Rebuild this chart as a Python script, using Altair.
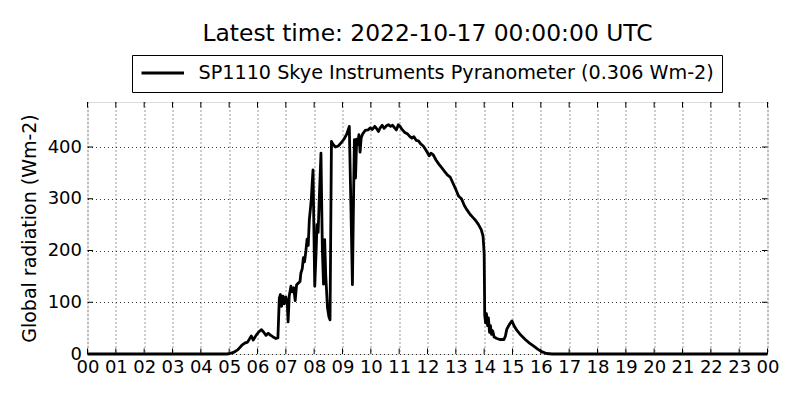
import altair as alt
import pandas as pd

TITLE = "Latest time: 2022-10-17 00:00:00 UTC"
SERIES = "SP1110 Skye Instruments Pyranometer (0.306 Wm-2)"
Y_TITLE = "Global radiation (Wm-2)"

hours = [0.0, 4.9, 5.0, 5.15, 5.3, 5.45, 5.55, 5.65, 5.78, 5.85, 5.95, 6.05, 6.14, 6.22, 6.3,
         6.38, 6.47, 6.55, 6.65, 6.72, 6.77, 6.81, 6.85, 6.9, 6.95, 7.0, 7.05, 7.08, 7.12, 7.18,
         7.23, 7.28, 7.33, 7.38, 7.44, 7.5, 7.53, 7.58, 7.62, 7.66, 7.71, 7.75, 7.79, 7.83, 7.87,
         7.9, 7.93, 7.96, 8.02, 8.07, 8.1, 8.14, 8.18, 8.24, 8.29, 8.33, 8.37, 8.41, 8.47, 8.52,
         8.56, 8.61, 8.67, 8.75, 8.85, 8.95, 9.05, 9.15, 9.24, 9.28, 9.31, 9.35, 9.39, 9.42, 9.46,
         9.5, 9.54, 9.58, 9.62, 9.66, 9.72, 9.8, 9.9, 9.98, 10.05, 10.14, 10.2, 10.27, 10.33, 10.4,
         10.47, 10.55, 10.62, 10.7, 10.77, 10.84, 10.9, 10.97, 11.03, 11.1, 11.2, 11.3, 11.38, 11.45,
         11.52, 11.6, 11.68, 11.76, 11.85, 11.92, 12.0, 12.06, 12.12, 12.2, 12.3, 12.4, 12.5, 12.6,
         12.7, 12.8, 12.9, 13.0, 13.1, 13.2, 13.3, 13.4, 13.5, 13.6, 13.7, 13.8, 13.9, 13.96, 14.0,
         14.02, 14.05, 14.08, 14.12, 14.15, 14.19, 14.22, 14.26, 14.3, 14.35, 14.45, 14.55, 14.7,
         14.75, 14.8, 14.9, 14.98, 15.05, 15.15, 15.3, 15.45, 15.6, 15.75, 15.9, 16.05, 16.2, 16.4,
         24.0]
radiation = [0, 0, 0.5, 3, 8, 17, 21, 23, 35, 27, 36, 43, 47, 42, 36,
             40, 36, 33, 30, 31, 108, 115, 92, 112, 97, 110, 100, 62, 112, 131,
             120, 128, 103, 134, 137, 140, 156, 165, 186, 178, 200, 222, 210, 260, 282,
             300, 330, 356, 131, 200, 250, 235, 300, 388, 200, 135, 221, 150, 90, 72,
             66, 411, 405, 400, 402, 408, 415, 425, 440, 330, 250, 134, 300, 414, 340,
             415, 405, 424, 390, 418, 426, 432, 433, 437, 434, 440, 436, 430, 437, 442,
             436, 441, 443, 440, 442, 437, 433, 443, 440, 434, 428, 425, 420, 417,
             420, 413, 412, 406, 402, 396, 389, 383, 388, 385, 375, 367, 360, 353,
             346, 342, 330, 318, 305, 300, 287, 278, 270, 264, 258, 250, 240, 228, 195,
             75, 60, 78, 55, 70, 42, 55, 38, 45, 33, 30, 28, 28,
             35, 48, 58, 64, 55, 46, 36, 28, 21, 15, 9, 4, 1, 0,
             0]

x_ticks = list(range(0, 25))
y_ticks = [0, 100, 200, 300, 400]
y_max = 487

W, H = 680, 252
FONT = "DejaVu Sans"

df = pd.DataFrame({"hour": hours, "value": radiation, "series": SERIES})
xt = pd.DataFrame({"hour": x_ticks})
yt = pd.DataFrame({"value": y_ticks})

xscale = alt.Scale(domain=[0, 24], nice=False, zero=False)
yscale = alt.Scale(domain=[0, y_max], nice=False)

grid_style = dict(grid=True, gridColor="black", gridDash=[1, 3], gridWidth=0.8, gridOpacity=1)

x_axis = alt.Axis(values=x_ticks, title=None, ticks=False, domain=False,
                  labelExpr="(datum.value % 24) < 10 ? '0' + (datum.value % 24) : '' + (datum.value % 24)",
                  labelFontSize=18, labelFont=FONT, labelColor="black", labelPadding=4,
                  labelFlush=False, labelOverlap=False, **grid_style)
y_axis = alt.Axis(values=y_ticks, title=Y_TITLE, ticks=False, domain=False,
                  labelFontSize=18, labelFont=FONT, labelColor="black", labelPadding=6,
                  titleFontSize=19, titleFont=FONT, titleFontWeight="normal",
                  titleColor="black", titlePadding=8, **grid_style)

X = alt.X("hour:Q", scale=xscale, axis=x_axis, title=None)
Y = alt.Y("value:Q", scale=yscale, axis=y_axis, title=Y_TITLE)

line = alt.Chart(df).mark_line(strokeWidth=2.8, strokeJoin="round").encode(
    x=X, y=Y,
    color=alt.Color("series:N", scale=alt.Scale(range=["black"]),
                    legend=alt.Legend(title=None, orient="none", legendX=44.5, legendY=-47,
                                      symbolType="M-1,0H4", symbolSize=289, symbolStrokeWidth=2.8,
                                      labelFontSize=19.2, labelFont=FONT, labelColor="black",
                                      labelOffset=38.5, labelLimit=0, strokeColor="black",
                                      fillColor="white", padding=8, cornerRadius=0)),
)

xt_bottom = alt.Chart(xt).mark_rule(color="black", strokeWidth=1).encode(
    x=X, y=alt.value(H), y2=alt.value(H - 5.5))
xt_top = alt.Chart(xt).mark_rule(color="black", strokeWidth=1).encode(
    x=X, y=alt.value(0), y2=alt.value(5.5))
yt_left = alt.Chart(yt).mark_rule(color="black", strokeWidth=1).encode(
    y=Y, x=alt.value(0), x2=alt.value(5.5))
yt_right = alt.Chart(yt).mark_rule(color="black", strokeWidth=1).encode(
    y=Y, x=alt.value(W), x2=alt.value(W - 5.5))

chart = alt.layer(line, xt_bottom, xt_top, yt_left, yt_right).properties(
    width=W, height=H,
    title=alt.TitleParams(TITLE, fontSize=23.4, font=FONT, fontWeight="normal", color="black",
                          anchor="middle", offset=8),
    autosize=alt.AutoSizeParams(type="none"),
    padding={"left": 79.5, "top": 94, "right": 20, "bottom": 30},
).configure_view(stroke="black", strokeWidth=1.2).configure(background="white")

chart.save("out.html", embed_options={"renderer": "svg", "actions": False})
